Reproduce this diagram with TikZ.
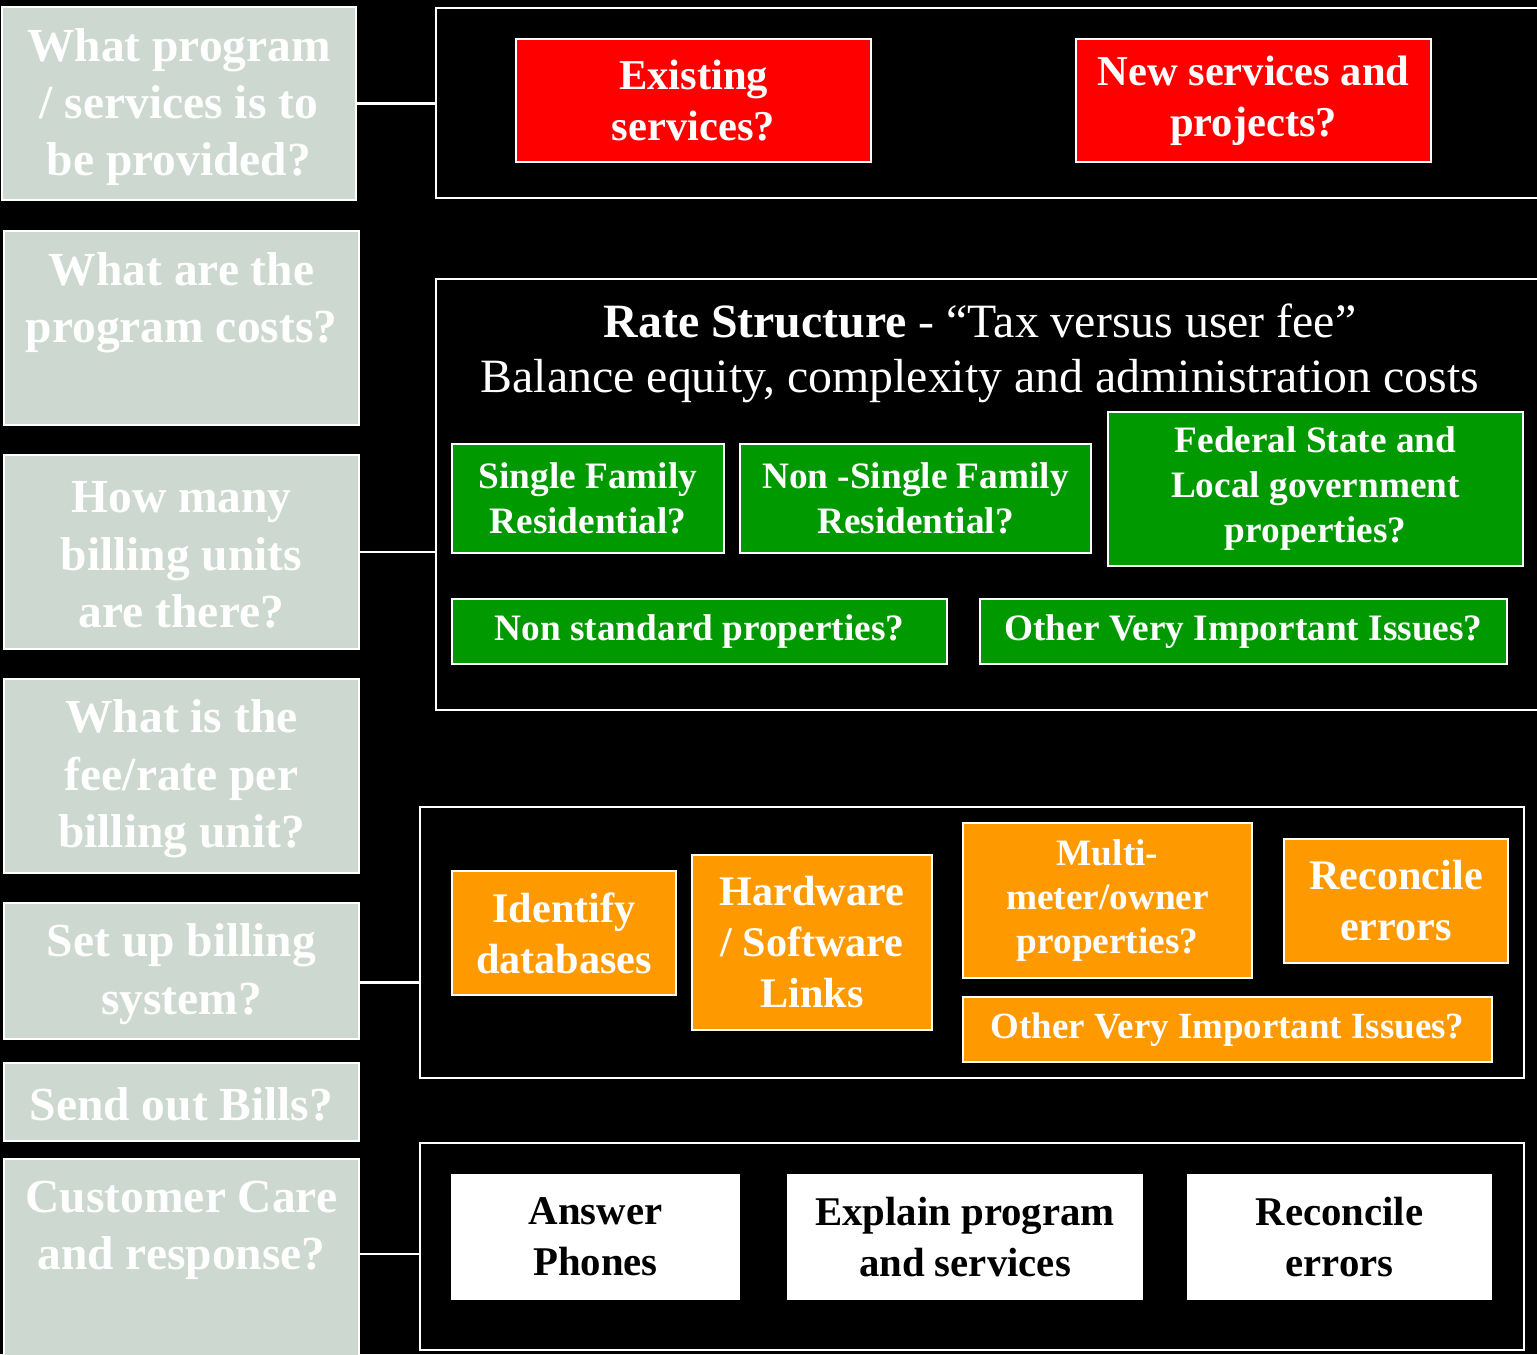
\documentclass[tikz,border=0pt]{standalone}
\usepackage{fontspec}
\setmainfont{Liberation Serif}
\usetikzlibrary{positioning}

\definecolor{sagegrey}{RGB}{205,216,208}
\definecolor{ratered}{RGB}{255,0,0}
\definecolor{rategreen}{RGB}{0,153,0}
\definecolor{setuporange}{RGB}{255,153,0}

\tikzset{
    sz/.style 2 args={minimum width=#1*0.01cm, minimum height=#2*0.01cm},
    ask/.style={draw=white, line width=0.8pt, fill=sagegrey, text=white, align=center,
                inner sep=0pt, font=\fontsize{13.5}{16.3}\selectfont\bfseries},
    asktext/.style={text=white, align=center, inner sep=0pt,
                font=\fontsize{13.5}{16.3}\selectfont\bfseries},
    panel/.style={draw=white, line width=0.8pt, fill=black, inner sep=0pt},
    redbox/.style={draw=white, line width=0.8pt, fill=ratered, text=white, align=center,
                inner sep=0pt, font=\fontsize{12.1}{14.5}\selectfont\bfseries},
    greenbox/.style={draw=white, line width=0.8pt, fill=rategreen, text=white, align=center,
                inner sep=0pt, font=\fontsize{10.6}{12.8}\selectfont\bfseries},
    orangebox/.style={draw=white, line width=0.8pt, fill=setuporange, text=white, align=center,
                inner sep=0pt, font=\fontsize{12}{14.5}\selectfont\bfseries},
    carebox/.style={fill=white, text=black, align=center,
                inner sep=0pt, font=\fontsize{11.6}{14.5}\selectfont\bfseries},
    link/.style={draw=white, line width=0.8pt}
}

\begin{document}
\begin{tikzpicture}[x=0.01cm, y=-0.01cm]
    % background
    \fill[black] (0,0) rectangle (1537,1354);
    \clip (0,0) rectangle (1537,1354);

    % questions on the left
    \node[ask, sz={354}{193}] (q1) at (179,103.5) {};
    \node[asktext] (q1t) at (179,107) {What program\\/ services is to\\be provided?};
    \node[ask, sz={355}{194}] (q2) at (181.5,328) {};
    \node[asktext] (q2t) at (181.5,303) {What are the\\program costs?};
    \node[ask, sz={355}{194}] (q3) at (181.5,552) {};
    \node[asktext] (q3t) at (181.5,555) {How many\\billing units\\are there?};
    \node[ask, sz={355}{194}] (q4) at (181.5,776) {};
    \node[asktext] (q4t) at (181.5,779) {What is the\\fee/rate per\\billing unit?};
    \node[ask, sz={355}{136}] (q5) at (181.5,971) {};
    \node[asktext] (q5t) at (181.5,974) {Set up billing\\system?};
    \node[ask, sz={355}{78}] (q6) at (181.5,1102) {};
    \node[asktext] (q6t) at (181.5,1104) {Send out Bills?};
    \node[ask, sz={355}{231}] (q7) at (181.5,1274.5) {};
    \node[asktext] (q7t) at (181.5,1230) {Customer Care\\and response?};

    % panels on the right
    \node[panel, sz={1164}{190}] (services) at (1018,103) {};
    \node[panel, sz={1164}{431}] (rates) at (1018,494.5) {};
    \node[panel, sz={1104}{271}] (setup) at (972,942.5) {};
    \node[panel, sz={1104}{207}] (care) at (972,1246.5) {};

    % connectors
    \draw[link] (q1.east) -- (q1.east -| services.west);
    \draw[link] (q3.east) -- (q3.east -| rates.west);
    \draw[link] ([yshift=-0.115cm]q5.east) -- ([yshift=-0.115cm]q5.east -| setup.west);
    \draw[link] ([yshift=0.205cm]q7.east) -- ([yshift=0.205cm]q7.east -| care.west);

    % services
    \node[redbox, sz={355}{123}] (existing) at (693.5,100.5) {Existing\\services?};
    \node[redbox, sz={355}{123}] (new) at (1253.5,100.5) {New services and\\projects?};

    % rate structure
    \node[text=white, inner sep=0pt, font=\fontsize{13.6}{16.5}\selectfont] (ratetitle) at (980,321)
        {\textbf{Rate Structure} - “Tax versus user fee”};
    \node[text=white, inner sep=0pt, font=\fontsize{13.6}{16.5}\selectfont] (balance) at (980,381)
        {Balance equity, complexity and administration costs};
    \node[greenbox, sz={272}{109}] (single) at (588,498.5) {Single Family\\Residential?};
    \node[greenbox, sz={351}{109}] (nonsingle) at (915.5,498.5) {Non -Single Family\\Residential?};
    \node[greenbox, sz={415}{154}] (federal) at (1315.5,489) {Federal State and\\Local government\\properties?};
    \node[greenbox, sz={495}{65}] (nonstd) at (699.5,631.5) {Non standard properties?};
    \node[greenbox, sz={527}{65}] (otherrate) at (1243.5,631.5) {Other Very Important Issues?};

    % billing system
    \node[orangebox, sz={224}{124}] (databases) at (564,933) {Identify\\databases};
    \node[orangebox, sz={240}{175}] (hardware) at (812,942.5) {Hardware\\/ Software\\Links};
    \node[orangebox, sz={289}{155}, font=\fontsize{10.6}{12.5}\selectfont\bfseries] (multi) at (1107.5,900.5)
        {Multi-\\meter/owner\\properties?};
    \node[orangebox, sz={224}{124}] (reconcile) at (1396,901) {Reconcile\\errors};
    \node[orangebox, sz={529}{65}, font=\fontsize{10.5}{12.5}\selectfont\bfseries] (othersetup) at (1227.5,1029.5)
        {Other Very Important Issues?};

    % customer care
    \node[carebox, sz={289}{126}] (phones) at (595.5,1237) {Answer\\Phones};
    \node[carebox, sz={356}{126}] (explain) at (965,1237) {Explain program\\and services};
    \node[carebox, sz={305}{126}] (errors) at (1339.5,1237) {Reconcile\\errors};
\end{tikzpicture}
\end{document}
